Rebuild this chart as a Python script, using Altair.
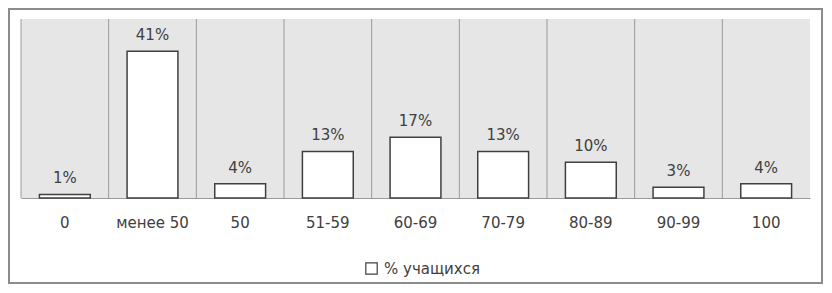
import altair as alt
import pandas as pd

categories = ["0", "менее 50", "50", "51-59", "60-69", "70-79", "80-89", "90-99", "100"]
values = [1, 41, 4, 13, 17, 13, 10, 3, 4]
labels = ["1%", "41%", "4%", "13%", "17%", "13%", "10%", "3%", "4%"]
series_name = "% учащихся"

df = pd.DataFrame({
    "cat": categories,
    "val": values,
    "label": labels,
    "series": [series_name] * len(categories),
})

W, H = 789, 179
FONT = "DejaVu Sans"
TXT = "#404040"

xaxis = alt.Axis(title=None, labelAngle=0, ticks=False, grid=False,
                 bandPosition=0.5, labelAlign="center",
                 domainColor="#9a9a9a", domainWidth=1,
                 labelFont=FONT, labelFontSize=15, labelColor=TXT,
                 labelPadding=17)
xscale = alt.Scale(paddingInner=0, paddingOuter=0)
yenc = alt.Y("val:Q", scale=alt.Scale(domain=[0, 50], nice=False), axis=None)

base = alt.Chart(df)

bars = base.mark_bar(
    width=alt.RelativeBandSize(0.58), stroke="#404040", strokeWidth=1.5
).encode(
    x=alt.X("cat:N", sort=categories, scale=xscale, axis=xaxis),
    y=yenc,
    color=alt.Color(
        "series:N",
        scale=alt.Scale(range=["white"]),
        legend=alt.Legend(
            title=None, orient="none", legendX=343, legendY=242,
            symbolType="square", symbolSize=130,
            symbolStrokeColor="#404040", symbolStrokeWidth=1.2,
            labelFont=FONT, labelFontSize=15, labelColor=TXT, labelOffset=5,
        ),
    ),
)

grid = base.mark_rule(color="#9a9a9a", strokeWidth=1).encode(
    x=alt.X("cat:N", sort=categories, bandPosition=0, axis=xaxis),
    y=alt.value(0),
    y2=alt.value(H),
)

text = base.mark_text(
    dy=-11, baseline="alphabetic", font=FONT, fontSize=15, color=TXT
).encode(
    x=alt.X("cat:N", sort=categories, axis=xaxis),
    y=yenc,
    text="label:N",
)

frame = alt.Chart(alt.Data(values=[{}])).mark_rect(
    fillOpacity=0, stroke="#8c8c8c", strokeWidth=2
).encode(
    x=alt.value(-12), x2=alt.value(801),
    y=alt.value(-10), y2=alt.value(264),
)

chart = alt.layer(bars, grid, text, frame).properties(
    width=W, height=H, padding=0,
).configure(
    background="white",
    view=alt.ViewConfig(fill="#e6e6e6", stroke=None),
)

chart.save("out.html", embed_options={"renderer": "svg", "actions": False})
